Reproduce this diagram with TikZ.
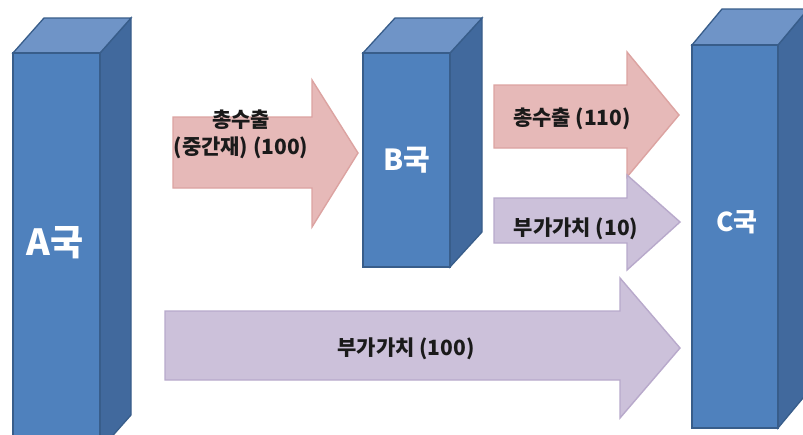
\documentclass[tikz,border=0pt]{standalone}
\usepackage{fontspec}
\newfontfamily\krfont{Noto Sans CJK KR}
\definecolor{bfront}{HTML}{4F81BD}
\definecolor{bside}{HTML}{41699D}
\definecolor{btop}{HTML}{6F94C7}
\definecolor{bline}{HTML}{385D8A}
\definecolor{pfill}{HTML}{E6B9B8}
\definecolor{pline}{HTML}{DCA3A1}
\definecolor{vfill}{HTML}{CCC1DA}
\definecolor{vline}{HTML}{B8A9CB}
\definecolor{txt}{HTML}{1A1A1A}
\newcommand\drawbox[6]{% x1 x2 ytop ybot dx dy
  \filldraw[boxline, fill=bside] (#2,#3) -- ++(#5,-#6) -- ++(0,{#4-#3}) -- (#2,#4) -- cycle;
  \filldraw[boxline, fill=btop] (#1,#3) -- ++(#5,-#6) -- ({#2+#5},{#3-#6}) -- (#2,#3) -- cycle;
  \filldraw[boxline, fill=bfront] (#1,#3) rectangle (#2,#4);
}
\newcommand\blockarrow[9]{% style x0 xb xt ys1 ys2 yh1 yh2 ytip
  \filldraw[#1] (#2,#5) -- (#3,#5) -- (#3,#7) -- (#4,#9) -- (#3,#8) -- (#3,#6) -- (#2,#6) -- cycle;
}
\begin{document}
\begin{tikzpicture}[x=1pt,y=-1pt,
  boxline/.style={draw=bline, line width=1.3pt, line join=miter},
  pinkarrow/.style={fill=pfill, draw=pline, line width=1.4pt, line join=miter},
  violetarrow/.style={fill=vfill, draw=vline, line width=1.4pt, line join=miter},
  boxlabel/.style={text=white, font=\krfont\bfseries, inner sep=0pt},
  arrowlabel/.style={text=txt, font=\krfont\bfseries\fontsize{21}{27}\selectfont, align=center, inner sep=0pt}]
\useasboundingbox (0,0) rectangle (803,434);
\fill[white] (0,0) rectangle (803,434);
\begin{scope}
\clip (0,0) rectangle (803,434);
% boxes
\drawbox{13}{100}{53}{450}{31}{35}
\drawbox{363}{450}{53}{267}{32}{35}
\drawbox{692}{778}{45}{428}{30}{36}
% arrows
\blockarrow{pinkarrow}{173}{312}{358}{117}{188}{80}{227}{153}
\blockarrow{pinkarrow}{494}{627}{679}{85}{148}{52}{177}{115}
\blockarrow{violetarrow}{494}{627}{680}{198}{243}{175}{270}{222}
\blockarrow{violetarrow}{165}{620}{680}{311}{380}{278}{418}{348}
\end{scope}
% labels
\node[boxlabel, font=\krfont\bfseries\fontsize{36}{40}\selectfont] (A) at (55,243) {A국};
\node[boxlabel, font=\krfont\bfseries\fontsize{29}{32}\selectfont] (B) at (407,160) {B국};
\node[boxlabel, font=\krfont\bfseries\fontsize{26}{30}\selectfont] (C) at (737,222) {C국};
\node[arrowlabel] (ab) at (241,134) {총수출\\(중간재) (100)};
\node[arrowlabel] (bc) at (572,119) {총수출 (110)};
\node[arrowlabel] (bcv) at (576,229) {부가가치 (10)};
\node[arrowlabel] (ac) at (406,349) {부가가치 (100)};
\end{tikzpicture}
\end{document}
